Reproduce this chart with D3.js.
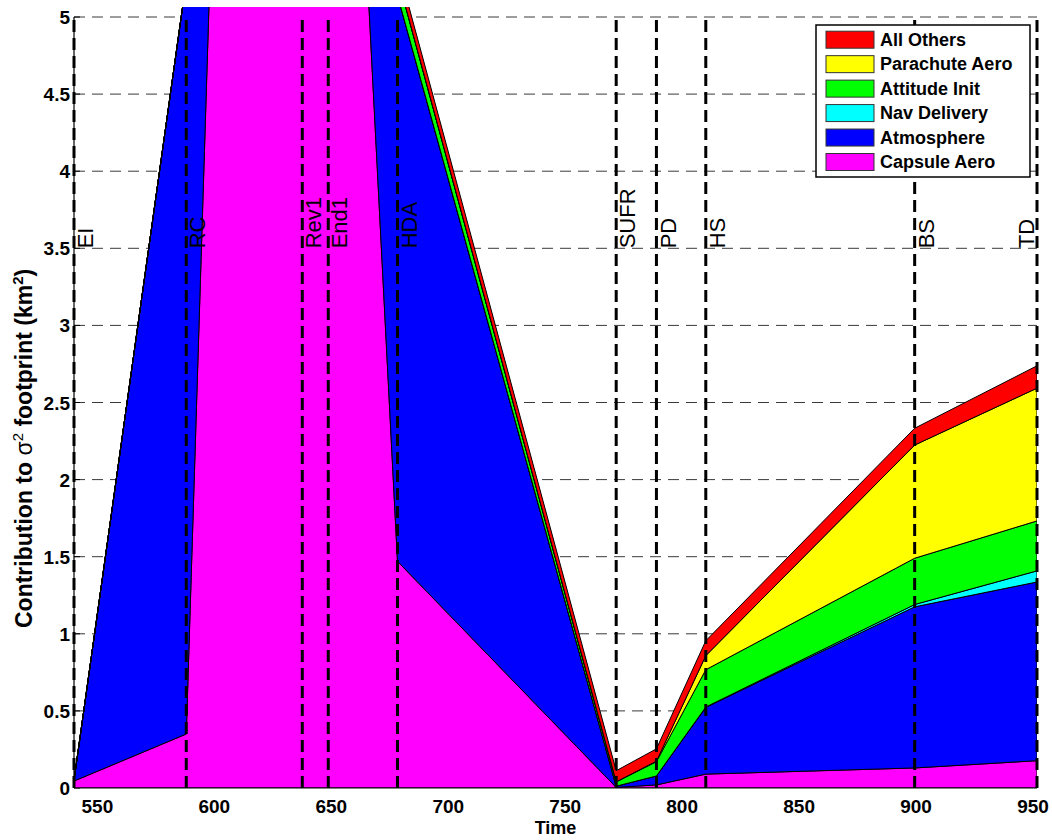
<!DOCTYPE html>
<html>
<head>
<meta charset="utf-8">
<script src="https://cdn.jsdelivr.net/npm/d3@7"></script>
<style>
  body { margin: 0; background: #fff; }
  svg { display: block; font-family: "Liberation Sans", Arial, Helvetica, sans-serif; }
</style>
</head>
<body>
<svg id="chart" width="1052" height="840"></svg>
<script>
// Event times along the entry/descent timeline (s)
const times = [540, 588, 637.6, 648.7, 678.3, 771.8, 789, 810.1, 899.4, 951.7];
const eventNames = ["EI", "RC", "Rev1", "End1", "HDA", "SUFR", "PD", "HS", "BS", "TD"];

// Contribution of each error source to the footprint variance (km^2)
const capsuleAero   = [0.045, 0.35, 24.5, 10.2, 1.47, 0.004, 0.02, 0.09, 0.13, 0.177];
const atmosphere    = [0.005, 4.885, 4.0, 3.5, 3.67, 0.008, 0.058, 0.433, 1.045, 1.159];
const navDelivery   = [0, 0, 0.1, 0.1, 0, 0, 0, 0.002, 0.015, 0.072];
const attitudeInit  = [0, 0, 0.3, 0.2, 0.12, 0.028, 0.093, 0.242, 0.30, 0.324];
const parachuteAero = [0, 0, 0, 0, 0, 0, 0.003, 0.091, 0.734, 0.861];
const allOthers     = [0, 0, 0.3, 0.2, 0.08, 0.072, 0.08, 0.097, 0.109, 0.145];

// Stack order, bottom to top
const seriesNames = ["Capsule Aero", "Atmosphere", "Nav Delivery", "Attitude Init", "Parachute Aero", "All Others"];
const seriesValues = [capsuleAero, atmosphere, navDelivery, attitudeInit, parachuteAero, allOthers];

const xTicks = [550, 600, 650, 700, 750, 800, 850, 900, 950];
const yTicks = [0, 0.5, 1, 1.5, 2, 2.5, 3, 3.5, 4, 4.5, 5];

const colorOf = {
  "Capsule Aero": "#ff00ff",
  "Atmosphere": "#0000ff",
  "Nav Delivery": "#00ffff",
  "Attitude Init": "#00ff00",
  "Parachute Aero": "#ffff00",
  "All Others": "#ff0000"
};

const svg = d3.select("#chart");
const plotLeft = 74, plotRight = 1037, plotTop = 17, plotBottom = 788;

const x = d3.scaleLinear().domain([540, 951.7]).range([plotLeft, plotRight]);
const y = d3.scaleLinear().domain([0, 5]).range([plotBottom, plotTop]);

// rows for the stack layout
const rows = times.map((t, i) => {
  const r = { t };
  seriesNames.forEach((n, k) => { r[n] = seriesValues[k][i]; });
  return r;
});
const stacked = d3.stack().keys(seriesNames)(rows);

svg.append("defs").append("clipPath").attr("id", "plotClip")
  .append("rect").attr("x", plotLeft).attr("y", 7)
  .attr("width", plotRight - plotLeft).attr("height", plotBottom - 7);

// horizontal dashed grid
svg.append("g").selectAll("line").data(yTicks.filter(v => v > 0)).join("line")
  .attr("x1", plotLeft).attr("x2", plotRight)
  .attr("y1", d => y(d)).attr("y2", d => y(d))
  .attr("stroke", "#3a3a3a").attr("stroke-width", 1).attr("stroke-dasharray", "11,7");

// tick marks (drawn beneath the areas)
svg.append("g").selectAll("line").data(yTicks).join("line")
  .attr("x1", plotLeft).attr("x2", plotLeft + 6)
  .attr("y1", d => y(d)).attr("y2", d => y(d))
  .attr("stroke", "#000").attr("stroke-width", 1);
svg.append("g").selectAll("line").data(xTicks).join("line")
  .attr("x1", d => x(d)).attr("x2", d => x(d))
  .attr("y1", plotBottom).attr("y2", plotBottom - 6)
  .attr("stroke", "#000").attr("stroke-width", 1);

// stacked areas
const area = d3.area()
  .x(d => x(d.data.t))
  .y0(d => y(d[0]))
  .y1(d => y(d[1]));

svg.append("g").attr("clip-path", "url(#plotClip)")
  .selectAll("path").data(stacked).join("path")
  .attr("d", area)
  .attr("fill", d => colorOf[d.key])
  .attr("stroke", "#000")
  .attr("stroke-width", 1)
  .attr("stroke-linejoin", "round");

// axis lines
svg.append("line").attr("x1", plotLeft).attr("x2", plotRight).attr("y1", plotBottom).attr("y2", plotBottom)
  .attr("stroke", "#000").attr("stroke-width", 1.2);
svg.append("line").attr("x1", plotLeft).attr("x2", plotLeft).attr("y1", plotTop).attr("y2", plotBottom)
  .attr("stroke", "#000").attr("stroke-width", 1.2);

// event markers
svg.append("g").selectAll("line").data(times).join("line")
  .attr("x1", d => x(d)).attr("x2", d => x(d))
  .attr("y1", y(0)).attr("y2", y(5))
  .attr("stroke", "#000").attr("stroke-width", 3).attr("stroke-dasharray", "12,6");

// event names sit just right of their marker, kept inside the plot at the far edge
svg.append("g").selectAll("text").data(times).join("text")
  .attr("transform", d => `translate(${Math.min(x(d + 5), plotRight - 11)},${y(3.5)}) rotate(-90)`)
  .attr("text-anchor", "start")
  .attr("dominant-baseline", "central")
  .attr("font-size", 22)
  .attr("fill", "#000")
  .text((d, i) => eventNames[i]);

// tick labels
svg.append("g").selectAll("text").data(xTicks).join("text")
  .attr("x", d => x(d)).attr("y", 813)
  .attr("text-anchor", "middle")
  .attr("font-size", 19).attr("font-weight", "bold")
  .text(d => d);
svg.append("g").selectAll("text").data(yTicks).join("text")
  .attr("x", 70).attr("y", d => y(d) + 7)
  .attr("text-anchor", "end")
  .attr("font-size", 19).attr("font-weight", "bold")
  .text(d => d);

// axis titles
svg.append("text")
  .attr("x", (plotLeft + plotRight) / 2).attr("y", 834)
  .attr("text-anchor", "middle")
  .attr("font-size", 18).attr("font-weight", "bold")
  .text("Time");

const yl = svg.append("text")
  .attr("transform", "translate(32,628) rotate(-90)")
  .attr("text-anchor", "start")
  .attr("font-size", 23).attr("font-weight", "bold");
yl.append("tspan").text("Contribution to ");
yl.append("tspan").attr("font-weight", "normal").text("σ");
yl.append("tspan").attr("font-weight", "normal").attr("font-size", 15).attr("dy", -9).text("2");
yl.append("tspan").attr("dy", 9).text(" footprint (km");
yl.append("tspan").attr("font-size", 15).attr("dy", -9).text("2");
yl.append("tspan").attr("dy", 9).text(")");

// legend
const legendOrder = seriesNames.slice().reverse();
const lg = svg.append("g");
lg.append("rect").attr("x", 816).attr("y", 25).attr("width", 214).attr("height", 152)
  .attr("fill", "#fff").attr("stroke", "#000").attr("stroke-width", 1.5);
const item = lg.selectAll("g").data(legendOrder).join("g")
  .attr("transform", (d, i) => `translate(0,${39.7 + i * 24.46})`);
item.append("rect").attr("x", 826).attr("y", -8.5).attr("width", 48).attr("height", 17)
  .attr("fill", d => colorOf[d]).attr("stroke", "#333").attr("stroke-width", 1);
item.append("text").attr("x", 880).attr("y", 0)
  .attr("dominant-baseline", "central")
  .attr("font-size", 18).attr("font-weight", "bold")
  .text(d => d);
</script>
</body>
</html>
